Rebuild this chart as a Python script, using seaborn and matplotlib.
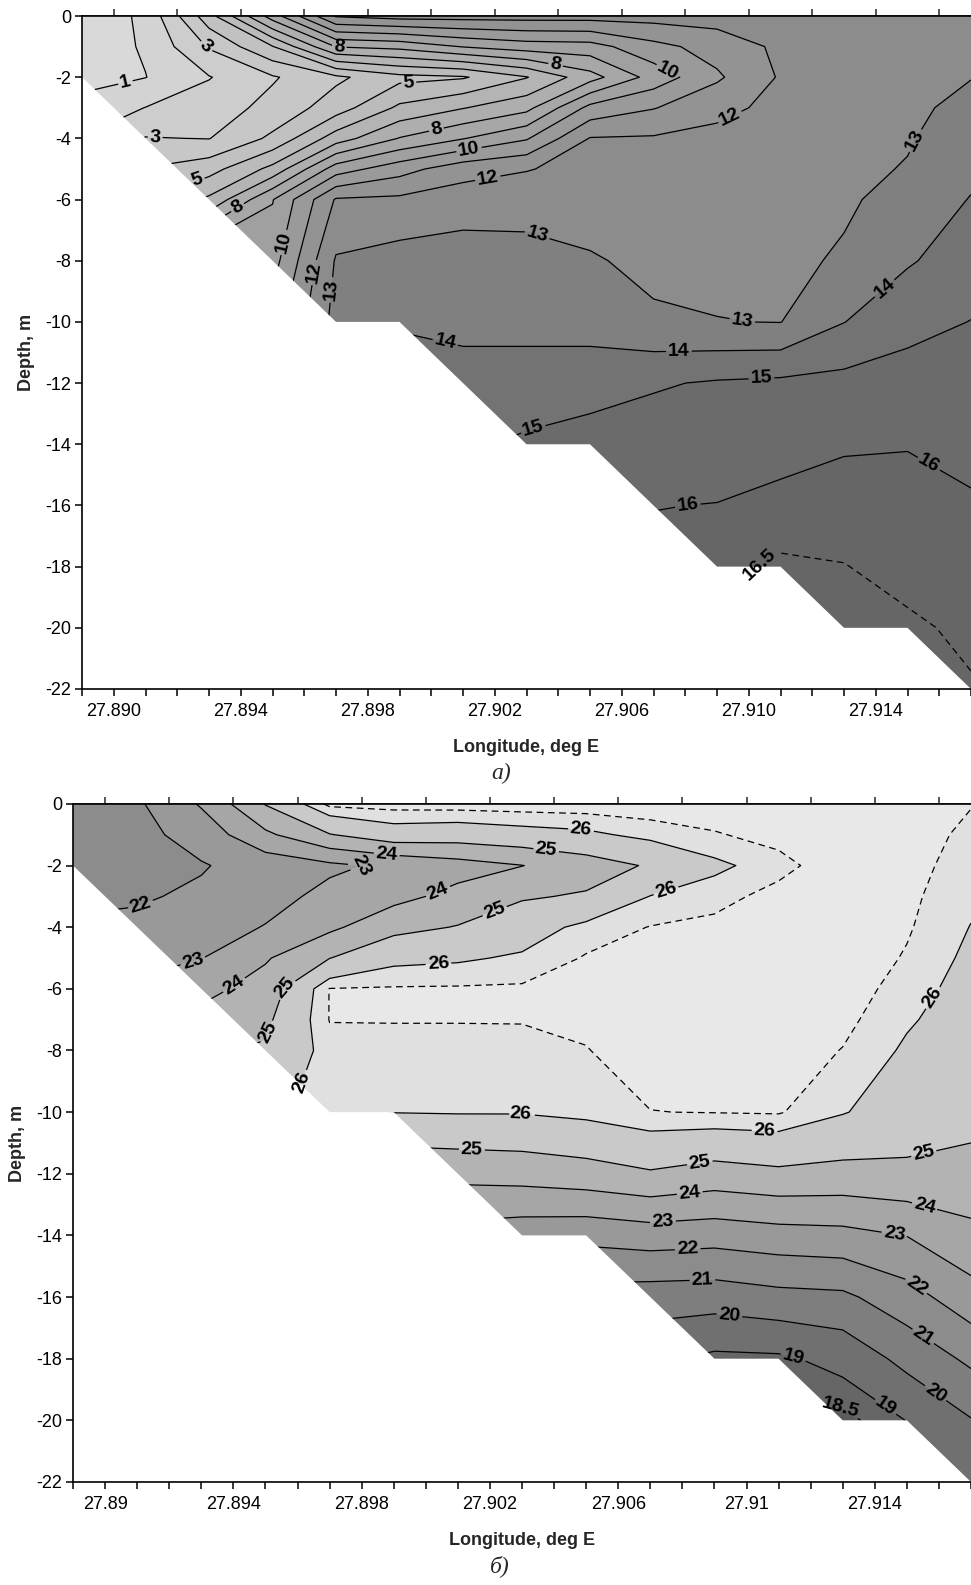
import numpy as np
import matplotlib
matplotlib.use("Agg")
import matplotlib.pyplot as plt
import seaborn as sns
from matplotlib.patches import Polygon
from matplotlib.ticker import MultipleLocator, FixedLocator

# ---------------- data ----------------
station_lon = [27.889, 27.891, 27.893, 27.895, 27.897, 27.899, 27.901, 27.903,
               27.905, 27.907, 27.909, 27.911, 27.913, 27.915, 27.917]

depth_a = [0, -1, -2, -3, -4, -5, -6, -8, -10, -12, -14, -16, -18, -20, -22]
depth_b = [0, -1, -2, -3, -4, -5, -6, -7, -8, -10, -12, -14, -16, -18, -20, -22]

# panel a) values per station, surface downward
a_st01 = [0.3, 0.45, 0.7, 1.3, 2.05, 3.05, 4.05, 7.05, 9.9, 12.9, 13.95, 14.95, 15.9, 16.3, 16.55]
a_st02 = [1.2, 1.1, 0.98, 2.02, 3.05, 4.05, 5.05, 8.05, 10.9, 13.5, 14.5, 15.3, 15.9, 16.3, 16.6]
a_st03 = [4.6, 3.1, 1.95, 2.5, 2.97, 4.6, 6.2, 10.5, 12.9, 13.9, 14.9, 15.6, 16.2, 16.4, 16.6]
a_st04 = [8.5, 4.95, 2.9, 3.3, 4.2, 6.3, 8.95, 9.6, 10.5, 12.9, 14.3, 15.2, 15.9, 16.3, 16.55]
a_st05 = [12.1, 8.05, 3.8, 4.5, 6.5, 9.5, 12.1, 13.1, 13.35, 13.8, 14.6, 15.3, 15.9, 16.3, 16.55]
a_st06 = [12.4, 8.3, 4.7, 6.2, 8.05, 10.6, 12.2, 13.4, 13.9, 14.5, 14.95, 15.5, 15.95, 16.3, 16.55]
a_st07 = [12.4, 9.05, 4.9, 6.95, 8.95, 11.6, 12.5, 13.5, 13.9, 14.15, 14.8, 15.4, 15.9, 16.3, 16.55]
a_st08 = [12.4, 9.5, 5.95, 7.7, 9.9, 11.95, 12.55, 13.4, 13.8, 14.3, 15.2, 15.6, 15.95, 16.3, 16.55]
a_st09 = [12.4, 9.6, 7.6, 10.3, 12.05, 12.3, 12.5, 13.1, 13.6, 14.6, 15.4, 15.8, 16.1, 16.3, 16.55]
a_st10 = [12.4, 10.7, 9.4, 10.95, 12.1, 12.35, 12.5, 12.75, 13.15, 14.9, 15.5, 15.98, 16.2, 16.4, 16.6]
a_st11 = [12.45, 11.4, 10.85, 11.7, 12.3, 12.45, 12.6, 12.8, 13.02, 15.1, 15.6, 16.02, 16.35, 16.45, 16.6]
a_st12 = [12.5, 12.2, 12.1, 12.3, 12.45, 12.55, 12.65, 12.8, 12.98, 15.2, 15.8, 16.15, 16.6, 16.7, 16.8]
a_st13 = [12.55, 12.45, 12.5, 12.6, 12.7, 12.8, 12.88, 13.1, 13.98, 15.3, 15.95, 16.2, 16.52, 16.8, 16.9]
a_st14 = [12.65, 12.65, 12.75, 12.85, 12.93, 13.05, 13.3, 13.9, 14.7, 15.4, 15.98, 16.15, 16.3, 16.6, 16.8]
a_st15 = [12.75, 12.85, 12.98, 13.2, 13.45, 13.75, 14.05, 14.5, 15.02, 15.4, 15.75, 16.1, 16.25, 16.38, 16.55]

# panel б) values per station, surface downward
b_st01 = [21.5, 21.4, 21.35, 21.7, 22.2, 22.8, 23.4, 23.95, 24.6, 25.5, 25.1, 23.1, 21.4, 19.9, 18.9, 18.4]
b_st02 = [21.85, 21.7, 21.7, 21.9, 22.2, 22.7, 23.2, 23.8, 24.4, 25.5, 25.1, 23.1, 21.4, 19.9, 18.9, 18.4]
b_st03 = [23.1, 22.4, 21.93, 22.15, 22.5, 22.97, 23.7, 24.3, 24.9, 25.8, 25.5, 23.5, 21.5, 19.9, 18.9, 18.4]
b_st04 = [25.05, 23.8, 22.4, 22.6, 23.05, 23.9, 24.4, 24.8, 25.1, 25.9, 25.5, 23.5, 21.8, 20.2, 19.2, 18.6]
b_st05 = [26.65, 24.95, 22.8, 23.3, 23.8, 24.98, 26.52, 26.52, 26.3, 26.15, 25.1, 23.5, 21.8, 20.3, 19.3, 18.8]
b_st06 = [26.72, 25.6, 23.2, 23.7, 24.7, 25.8, 26.55, 26.52, 26.35, 26.02, 24.2, 22.5, 20.9, 19.8, 18.9, 18.4]
b_st07 = [26.75, 25.5, 23.6, 24.3, 25.05, 25.9, 26.56, 26.52, 26.35, 26.05, 24.3, 22.6, 20.9, 19.8, 18.9, 18.4]
b_st08 = [26.78, 25.7, 23.98, 24.9, 25.6, 26.1, 26.58, 26.52, 26.38, 26.05, 24.4, 22.4, 20.8, 19.6, 18.9, 18.4]
b_st09 = [26.8, 25.85, 24.55, 25.1, 26.2, 26.55, 26.7, 26.6, 26.48, 26.2, 24.6, 22.3, 20.6, 19.5, 18.8, 18.4]
b_st10 = [26.82, 26.2, 25.1, 26.02, 26.52, 26.7, 26.78, 26.8, 26.75, 26.49, 24.9, 22.5, 20.5, 19.2, 18.6, 18.3]
b_st11 = [26.85, 26.45, 25.85, 26.3, 26.65, 26.75, 26.8, 26.8, 26.75, 26.52, 24.6, 22.4, 20.45, 18.8, 18.6, 18.3]
b_st12 = [26.87, 26.7, 26.3, 26.7, 26.8, 26.85, 26.85, 26.85, 26.8, 26.55, 24.8, 22.6, 20.7, 18.85, 18.4, 18.3]
b_st13 = [26.87, 26.87, 26.88, 26.88, 26.87, 26.85, 26.8, 26.65, 26.48, 26.05, 24.7, 22.7, 20.8, 19.3, 18.3, 18.2]
b_st14 = [26.75, 26.7, 26.68, 26.62, 26.56, 26.45, 26.25, 26.08, 25.9, 25.55, 24.8, 23.02, 21.6, 20.3, 19.02, 18.8]
b_st15 = [26.52, 26.4, 26.27, 26.13, 25.98, 25.85, 25.75, 25.65, 25.55, 25.35, 24.65, 23.75, 22.6, 21.2, 19.95, 19.2]

# sea-bottom profile
bottom_lon = [27.887, 27.889, 27.897, 27.899, 27.903, 27.905, 27.909, 27.911, 27.913, 27.915, 27.917, 27.918]
bottom_depth = [0, -2, -10, -10, -14, -14, -18, -18, -20, -20, -22, -23]

levels_a = [1, 2, 3, 4, 5, 6, 7, 8, 9, 10, 11, 12, 13, 14, 15, 16, 16.5]
levels_b = [18.5, 19, 20, 21, 22, 23, 24, 25, 26, 26.5]
dashed_a = [16.5]
dashed_b = [26.5]

lon_ticks = [27.890, 27.894, 27.898, 27.902, 27.906, 27.910, 27.914]
lon_ticklabels_a = ["27.890", "27.894", "27.898", "27.902", "27.906", "27.910", "27.914"]
lon_ticklabels_b = ["27.89", "27.894", "27.898", "27.902", "27.906", "27.91", "27.914"]
depth_ticks = [0, -2, -4, -6, -8, -10, -12, -14, -16, -18, -20, -22]
depth_ticklabels = ["0", "-2", "-4", "-6", "-8", "-10", "-12", "-14", "-16", "-18", "-20", "-22"]

# label anchor points (lon, depth) for the contour labels
labels_a = {
    1: [(27.8904, -2.32)],
    3: [(27.8929, -1.01), (27.8913, -4.05)],
    5: [(27.8993, -2.29), (27.8926, -5.26)],
    8: [(27.8971, -0.95), (27.9039, -1.67), (27.8941, -6.6), (27.9002, -3.9)],
    10: [(27.9075, -1.7), (27.9012, -4.44), (27.8953, -7.39)],
    12: [(27.9093, -3.07), (27.9018, -5.42), (27.8964, -8.4)],
    13: [(27.8968, -8.95), (27.9034, -6.93), (27.9098, -9.93), (27.9152, -4.05)],
    14: [(27.9004, -10.85), (27.9078, -10.98), (27.9144, -9.05)],
    15: [(27.9104, -11.83), (27.9032, -13.46)],
    16: [(27.9081, -16.24), (27.9158, -14.41)],
    16.5: [(27.9102, -17.68)],
}
labels_b = {
    18.5: [(27.91292, -19.51)],
    19: [(27.91149, -17.82), (27.91422, -19.74)],
    20: [(27.90947, -16.59), (27.91578, -19.29)],
    21: [(27.90863, -15.55), (27.91547, -17.34)],
    22: [(27.89115, -3.38), (27.90817, -14.55), (27.91531, -15.62)],
    23: [(27.89798, -1.92), (27.89273, -5.06), (27.90739, -13.51), (27.91463, -13.83)],
    24: [(27.89879, -1.56), (27.90040, -2.89), (27.89398, -5.81), (27.90823, -12.6), (27.91556, -13.02)],
    25: [(27.90376, -1.43), (27.90217, -3.54), (27.89543, -5.71), (27.89512, -7.44),
         (27.90143, -11.33), (27.90854, -11.62), (27.91556, -11.49)],
    26: [(27.90484, -0.84), (27.90755, -3.02), (27.90040, -5.29), (27.89658, -9.19),
         (27.90295, -10.19), (27.91056, -10.68), (27.91578, -6.27)],
}

# ---------------- style ----------------
sns.set_style("ticks")
plt.rcParams['font.family'] = ['Liberation Sans', 'DejaVu Sans']
plt.rcParams['axes.unicode_minus'] = False
plt.rcParams['lines.dashed_pattern'] = [5.4, 3.6]

# grey shading ramps (value -> grey level)
shade_a_v = [0.5, 6.0, 12.5, 13.5, 14.5, 15.5, 16.25]
shade_a_g = [0.85, 0.72, 0.55, 0.50, 0.45, 0.42, 0.40]
shade_b_v = [18.0, 18.75, 21.5, 24.5, 25.5, 26.25, 26.75]
shade_b_g = [0.36, 0.40, 0.55, 0.70, 0.79, 0.88, 0.91]


def grey_a(v):
    g = float(np.interp(v, shade_a_v, shade_a_g))
    return (g, g, g)


def grey_b(v):
    g = float(np.interp(v, shade_b_v, shade_b_g))
    return (g, g, g)


def draw_panel(ax, columns, depths, levels, dashed, lo, hi, grey, label_pos, ticklabels):
    Z = np.column_stack([np.asarray(c, float) for c in columns])
    y = np.asarray(depths, float)[::-1]
    Z = Z[::-1, :]
    x = np.asarray(station_lon, float)
    bounds = [lo] + list(levels) + [hi]
    mids = [(a + b) / 2 for a, b in zip(bounds[:-1], bounds[1:])]
    ax.contourf(x, y, Z, levels=bounds, colors=[grey(m) for m in mids], zorder=0.5)
    for lev in levels:
        style = 'dashed' if lev in dashed else 'solid'
        cs = ax.contour(x, y, Z, levels=[lev], colors='black', linewidths=0.9,
                        linestyles=style, zorder=0.8)
        pts = label_pos.get(lev)
        if pts:
            txts = ax.clabel(cs, manual=pts, inline=True, inline_spacing=2,
                             fmt=lambda v: f"{v:g}", fontsize=14, zorder=6)
            for t in txts:
                t.set_fontweight('bold')
                t.set_color('black')
    seabed = list(zip(bottom_lon, bottom_depth)) + [(bottom_lon[-1], -40), (bottom_lon[0], -40)]
    ax.add_patch(Polygon(seabed, closed=True, facecolor='white', edgecolor='none', zorder=1.0))

    ax.set_xlim(27.889, 27.917)
    ax.set_ylim(-22, 0)
    ax.xaxis.set_major_locator(FixedLocator(lon_ticks))
    ax.set_xticklabels(ticklabels)
    ax.xaxis.set_minor_locator(MultipleLocator(0.001))
    ax.yaxis.set_major_locator(FixedLocator(depth_ticks))
    ax.set_yticklabels(depth_ticklabels)
    ax.tick_params(axis='both', which='both', direction='out', length=5, width=1.1,
                   labelsize=13, colors='black', pad=3)
    ax.tick_params(axis='x', which='major', pad=5)
    sec = ax.secondary_xaxis('top')
    sec.xaxis.set_major_locator(MultipleLocator(0.002))
    sec.tick_params(axis='x', direction='out', length=5, width=1.1, labeltop=False)
    sec.spines['top'].set_linewidth(1.2)
    for side in ['left', 'bottom', 'top']:
        ax.spines[side].set_linewidth(1.2)
        ax.spines[side].set_color('black')
    ax.spines['right'].set_visible(False)
    ax.set_xlabel("Longitude, deg E", fontsize=13, fontweight='bold', labelpad=14)
    ax.set_ylabel("Depth, m", fontsize=13, fontweight='bold', labelpad=7)
    ax.grid(False)


fig = plt.figure(figsize=(9.71, 15.85), dpi=100)
ax1 = fig.add_axes([0.0845, 0.5653, 0.9155, 0.4246])
ax2 = fig.add_axes([0.0752, 0.0650, 0.9248, 0.4278])

cols_a = [a_st01, a_st02, a_st03, a_st04, a_st05, a_st06, a_st07, a_st08,
          a_st09, a_st10, a_st11, a_st12, a_st13, a_st14, a_st15]
cols_b = [b_st01, b_st02, b_st03, b_st04, b_st05, b_st06, b_st07, b_st08,
          b_st09, b_st10, b_st11, b_st12, b_st13, b_st14, b_st15]

draw_panel(ax1, cols_a, depth_a, levels_a, dashed_a, -1.0, 20.0, grey_a, labels_a, lon_ticklabels_a)
draw_panel(ax2, cols_b, depth_b, levels_b, dashed_b, 15.0, 29.0, grey_b, labels_b, lon_ticklabels_b)

fig.text(0.516, 1 - 773 / 1585, "а)", ha='center', va='center', fontsize=17,
         fontstyle='italic', family=['Liberation Serif', 'DejaVu Serif'])
fig.text(0.515, 1 - 1566 / 1585, "б)", ha='center', va='center', fontsize=17,
         fontstyle='italic', family=['Liberation Serif', 'DejaVu Serif'])

fig.savefig("out.png", dpi=100, facecolor='white')
